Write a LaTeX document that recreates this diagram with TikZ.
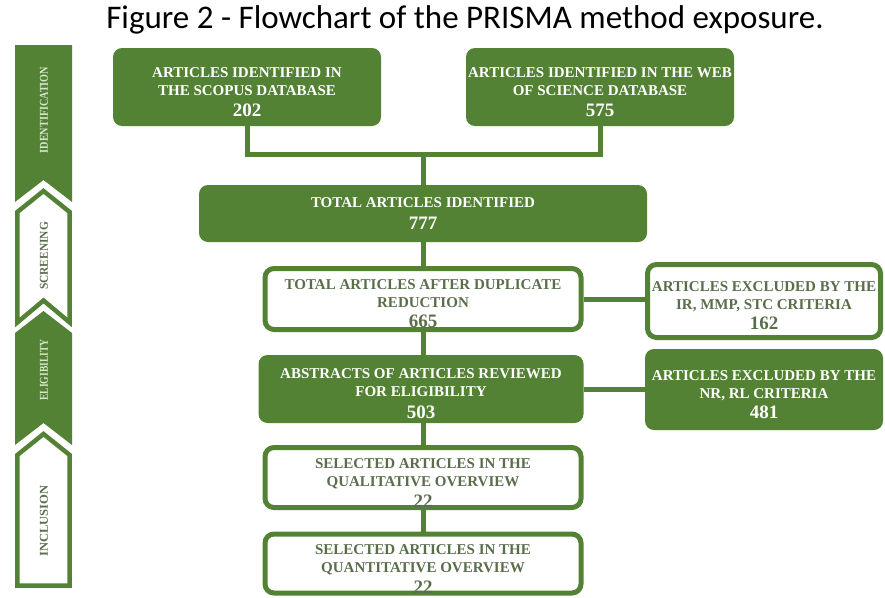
\documentclass[tikz,border=0pt]{standalone}
\usepackage{fontspec}
\setmainfont{Liberation Serif}
\newfontfamily\titlefont{Carlito}
\usepackage{graphicx}
\usetikzlibrary{positioning}
\definecolor{prgreen}{RGB}{84,130,53}
\definecolor{prtext}{RGB}{90,110,76}
\definecolor{prlight}{RGB}{214,232,204}
\newcommand{\squeeze}[2]{\scalebox{#1}[1]{#2}}
\newcommand{\boxnum}[1]{{\fontsize{19}{19}\selectfont #1}}
\newcommand{\topstrut}{\rule{0pt}{20pt}}

\begin{document}
\begin{tikzpicture}[x=1pt,y=-1pt,
 box/.style={rounded corners=9pt, align=center, inner sep=0pt, font=\fontsize{15}{18}\selectfont\bfseries},
 fullbox/.style={box, fill=prgreen, text=white},
 openbox/.style={box, draw=prgreen, line width=5pt, fill=white, text=prtext},
 link/.style={draw=prgreen, line width=5pt},
 tag/.style={rotate=90, font=\fontsize{12}{14}\selectfont\bfseries}]
 \useasboundingbox (0,0) rectangle (885,597);
 \node[font=\titlefont\fontsize{33}{36}\selectfont] (title) at (465,20) {Figure 2 - Flowchart of the PRISMA method exposure.};

 \fill[prgreen] (15,45) -- (72,45) -- (72,202) -- (43.5,180) -- (15,202) -- cycle;
 \draw[prgreen, line width=4.5pt, fill=white] (17.3,212) -- (43.5,191) -- (69.7,212) -- (69.7,322.5) -- (43.5,300.5) -- (17.3,322.5) -- cycle;
 \fill[prgreen] (15,333) -- (43.5,311) -- (72,333) -- (72,445) -- (43.5,423) -- (15,445) -- cycle;
 \draw[prgreen, line width=4.5pt, fill=white] (17.3,455) -- (43.5,434) -- (69.7,455) -- (69.7,585.5) -- (17.3,585.5) -- cycle;
 \node[tag, text=prlight] (ident) at (44,110) {\squeeze{0.85}{IDENTIFICATION}};
 \node[tag, text=prtext] (screen) at (44,256) {\squeeze{0.95}{SCREENING}};
 \node[tag, text=prlight] (elig) at (44,370) {\squeeze{0.8}{ELIGIBILITY}};
 \node[tag, text=prtext] (incl) at (44,521) {\squeeze{1.05}{INCLUSION}};

 \node[fullbox, minimum width=268, minimum height=78] (scopus) at (247,87) {\topstrut ARTICLES IDENTIFIED IN\\THE SCOPUS DATABASE\\[3pt]\boxnum{202}};
 \node[fullbox, minimum width=268, minimum height=78] (wos) at (600,87) {\topstrut ARTICLES IDENTIFIED IN THE WEB\\OF SCIENCE DATABASE\\[3pt]\boxnum{575}};
 \node[fullbox, minimum width=448, minimum height=57] (total) at (423,213.5) {TOTAL ARTICLES IDENTIFIED\\[4pt]\boxnum{777}};
 \node[openbox, minimum width=316, minimum height=61] (dup) at (423,299) {\topstrut TOTAL ARTICLES AFTER DUPLICATE\\REDUCTION\\[2pt]\boxnum{665}};
 \node[fullbox, minimum width=325, minimum height=68] (abs) at (421,389) {\topstrut ABSTRACTS OF ARTICLES REVIEWED\\FOR ELIGIBILITY\\[4pt]\boxnum{503}};
 \node[openbox, minimum width=233, minimum height=73] (excl1) at (764,301) {\topstrut ARTICLES EXCLUDED BY THE\\IR, MMP, STC CRITERIA\\[2pt]\boxnum{162}};
 \node[fullbox, minimum width=238, minimum height=81] (excl2) at (764,389.5) {\topstrut ARTICLES EXCLUDED BY THE\\NR, RL CRITERIA\\[2pt]\boxnum{481}};
 \node[openbox, minimum width=316, minimum height=60] (qual) at (423,477.5) {\topstrut SELECTED ARTICLES IN THE\\QUALITATIVE OVERVIEW\\[3pt]\boxnum{22}};
 \node[openbox, minimum width=316, minimum height=58] (quant) at (423,563.5) {\topstrut SELECTED ARTICLES IN THE\\QUANTITATIVE OVERVIEW\\[3pt]\boxnum{22}};

 \coordinate (join) at (423,154);
 \draw[link] (scopus.south) |- (join);
 \draw[link] (wos.south) |- (join);
 \draw[link] (join) -- (total.north);
 \draw[link] (total.south) -- (dup.north);
 \draw[link] (dup.south) -- (abs.north -| dup.south);
 \draw[link] (abs.south -| qual.north) -- (qual.north);
 \draw[link] (qual.south) -- (quant.north);
 \draw[link] (dup.east) -- (dup.east -| excl1.west);
 \draw[link] (abs.east) -- (abs.east -| excl2.west);
\end{tikzpicture}
\end{document}
